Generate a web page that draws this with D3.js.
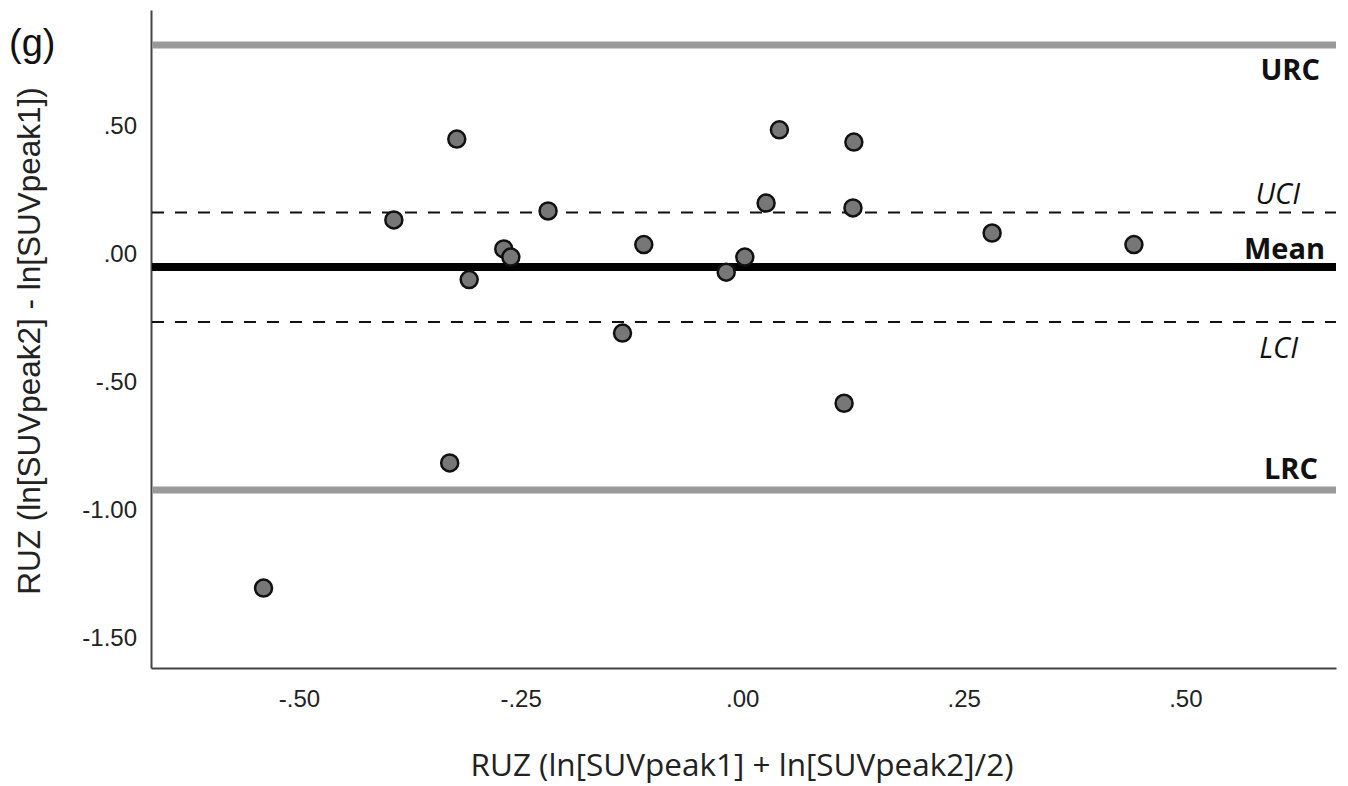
<!DOCTYPE html>
<html>
<head>
<meta charset="utf-8">
<script src="https://cdn.jsdelivr.net/npm/d3@7"></script>
<style>
  body { margin: 0; background: #fff; }
  svg { display: block; }
</style>
</head>
<body>
<svg id="chart"></svg>
<script>
// Bland-Altman style data
const meanX = [-0.540, -0.393, -0.330, -0.322, -0.308, -0.269, -0.261, -0.219, -0.135, -0.111,
               -0.018, 0.003, 0.027, 0.042, 0.115, 0.125, 0.126, 0.282, 0.442];
const diffY = [-1.305, 0.133, -0.816, 0.449, -0.100, 0.020, -0.012, 0.168, -0.309, 0.037,
               -0.071, -0.012, 0.199, 0.485, -0.583, 0.180, 0.437, 0.082, 0.037];

const refNames = ['URC', 'UCI', 'Mean', 'LCI', 'LRC'];
const refValues = [0.816, 0.162, -0.051, -0.266, -0.922];

const xTicks = [-0.5, -0.25, 0, 0.25, 0.5];
const xTickLabels = ['-.50', '-.25', '.00', '.25', '.50'];
const yTicks = [0.5, 0, -0.5, -1, -1.5];
const yTickLabels = ['.50', '.00', '-.50', '-1.00', '-1.50'];

const width = 1348;
const height = 786;
const marginLeft = 151;
const marginRight = 12;
const marginTop = 10;
const marginBottom = 118;

const svg = d3.select('#chart')
  .attr('width', width)
  .attr('height', height);

const x = d3.scaleLinear()
  .domain([-0.667, 0.670])
  .range([marginLeft, width - marginRight]);

const y = d3.scaleLinear()
  .domain([-1.617, 0.953])
  .range([height - marginBottom, marginTop]);

// axes, no tick marks
const xAxis = svg.append('g')
  .attr('transform', `translate(0, ${height - marginBottom})`)
  .call(d3.axisBottom(x).tickValues(xTicks).tickSize(0).tickPadding(22)
    .tickFormat((d, i) => xTickLabels[i]));
xAxis.select('.domain').attr('stroke', '#444').attr('stroke-width', 2);
xAxis.selectAll('text')
  .attr('font-family', 'Liberation Sans Narrow, Liberation Sans, Arial, sans-serif')
  .attr('font-size', 24).attr('fill', '#222');

const yAxis = svg.append('g')
  .attr('transform', `translate(${marginLeft}, 0)`)
  .call(d3.axisLeft(y).tickValues(yTicks).tickSize(0).tickPadding(14)
    .tickFormat((d, i) => yTickLabels[i]));
yAxis.select('.domain').attr('stroke', '#444').attr('stroke-width', 2);
yAxis.selectAll('text')
  .attr('font-family', 'Liberation Sans, Arial, sans-serif')
  .attr('font-size', 24).attr('fill', '#222');

// reference lines
const refStyle = {
  URC: { stroke: '#999', width: 7, dash: null },
  UCI: { stroke: '#111', width: 2, dash: '12,11' },
  Mean: { stroke: '#000', width: 8, dash: null },
  LCI: { stroke: '#111', width: 2, dash: '12,11' },
  LRC: { stroke: '#999', width: 7, dash: null }
};

svg.append('g')
  .selectAll('line')
  .data(refNames)
  .join('line')
  .attr('x1', marginLeft + 1)
  .attr('x2', width - marginRight)
  .attr('y1', (d, i) => y(refValues[i]))
  .attr('y2', (d, i) => y(refValues[i]))
  .attr('stroke', d => refStyle[d].stroke)
  .attr('stroke-width', d => refStyle[d].width)
  .attr('stroke-dasharray', d => refStyle[d].dash);

// labels for reference lines
const labelPos = {
  URC: { dx: -16, dy: 35, italic: false },
  UCI: { dx: -36, dy: -9, italic: true },
  Mean: { dx: -11, dy: -8, italic: false },
  LCI: { dx: -38, dy: 36, italic: true },
  LRC: { dx: -18, dy: -11, italic: false }
};

svg.append('g')
  .selectAll('text')
  .data(refNames)
  .join('text')
  .attr('x', d => width - marginRight + labelPos[d].dx)
  .attr('y', (d, i) => y(refValues[i]) + labelPos[d].dy)
  .attr('text-anchor', 'end')
  .attr('font-family', 'Open Sans, sans-serif')
  .attr('font-size', d => labelPos[d].italic ? 29 : 29)
  .attr('font-weight', d => labelPos[d].italic ? 'normal' : 'bold')
  .attr('font-style', d => labelPos[d].italic ? 'italic' : 'normal')
  .attr('fill', '#111')
  .text(d => d);

// points
svg.append('g')
  .selectAll('circle')
  .data(meanX)
  .join('circle')
  .attr('cx', d => x(d))
  .attr('cy', (d, i) => y(diffY[i]))
  .attr('r', 8.5)
  .attr('fill', '#777')
  .attr('stroke', '#111')
  .attr('stroke-width', 2.5);

// titles
svg.append('text')
  .attr('x', 9)
  .attr('y', 56)
  .attr('font-family', 'Liberation Sans, Arial, sans-serif')
  .attr('font-size', 38)
  .attr('fill', '#111')
  .text('(g)');

svg.append('text')
  .attr('transform', `translate(40, ${(marginTop + height - marginBottom) / 2 + 2}) rotate(-90)`)
  .attr('text-anchor', 'middle')
  .attr('font-family', 'Liberation Sans, Arial, sans-serif')
  .attr('font-size', 31.5)
  .attr('fill', '#222')
  .text('RUZ (ln[SUVpeak2] - ln[SUVpeak1])');

svg.append('text')
  .attr('x', 742)
  .attr('y', 776)
  .attr('text-anchor', 'middle')
  .attr('font-family', 'Open Sans, sans-serif')
  .attr('font-size', 31.5)
  .attr('fill', '#222')
  .text('RUZ (ln[SUVpeak1] + ln[SUVpeak2]/2)');
</script>
</body>
</html>
